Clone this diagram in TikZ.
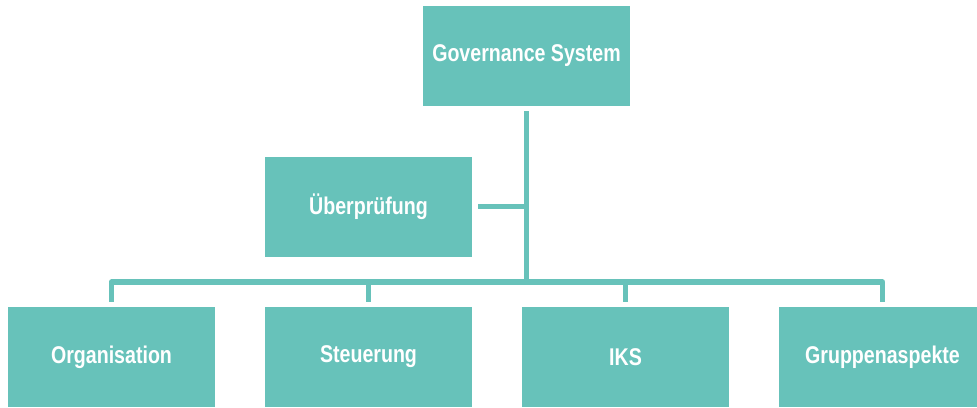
\documentclass[tikz,border=0pt]{standalone}
\usepackage{fontspec}
\setmainfont{Liberation Sans}
\newfontfamily\boxfont{Liberation Sans}[FakeStretch=0.81]
\definecolor{teal1}{RGB}{103,194,186}
\tikzset{
  box/.style={fill=teal1, draw=none, minimum width=207pt, minimum height=100pt, inner sep=0pt,
    text=white, font=\boxfont\bfseries\fontsize{24.2}{28}\selectfont},
  conn/.style={draw=teal1, line width=5.5pt, line join=round, line cap=butt}
}
\begin{document}
\begin{tikzpicture}[x=1pt,y=-1pt]
\useasboundingbox (0,0) rectangle (977,407);
\clip (0,0) rectangle (977,407);
\node[box] (gov) at (526.5,56) {Governance System};
\node[box] (ueb) at (368.5,206.5) {Überprüfung};
\node[box] (org) at (111.5,357) {Organisation};
\node[box] (ste) at (368.5,357) {Steuerung};
\node[box] (iks) at (625.5,357) {IKS};
\node[box] (grp) at (882.5,357) {Gruppenaspekte};
\coordinate (bus) at (526.5,282);
\draw[conn] ([yshift=-5pt]gov.south) -- (bus);
\draw[conn] ([xshift=6pt]ueb.east) -- (ueb.east -| bus);
\draw[conn] ([yshift=5pt]org.north) |- (bus) -| ([yshift=5pt]grp.north);
\draw[conn] ([yshift=5pt]ste.north) -- (ste.north |- bus);
\draw[conn] ([yshift=5pt]iks.north) -- (iks.north |- bus);
\end{tikzpicture}
\end{document}
